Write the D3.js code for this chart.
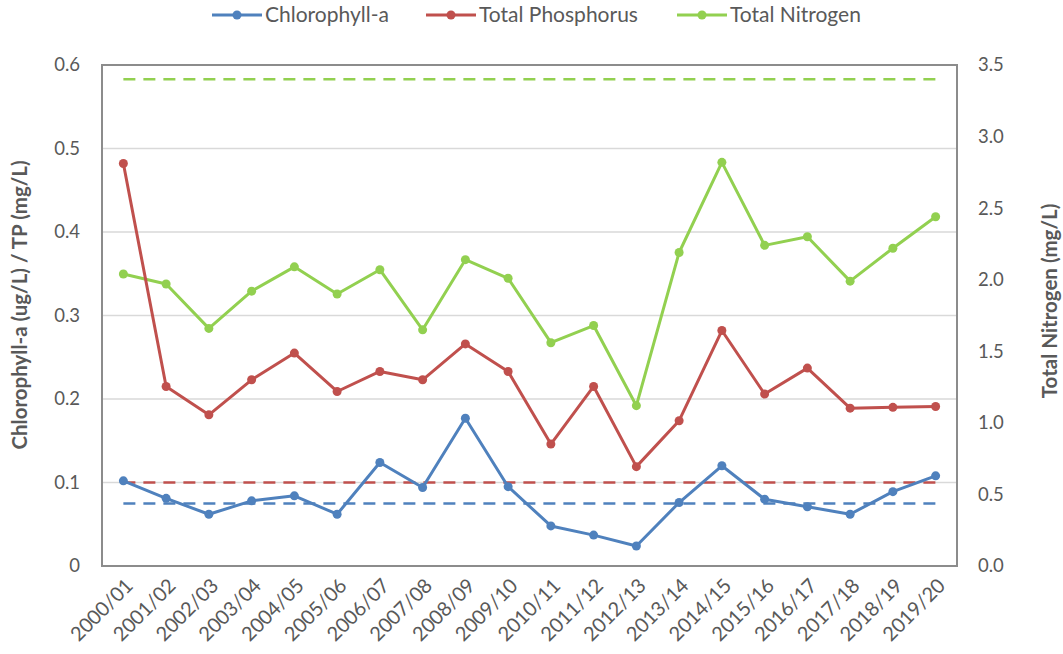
<!DOCTYPE html>
<html>
<head>
<meta charset="utf-8">
<script src="https://cdn.jsdelivr.net/npm/d3@7"></script>
<style>
  body { margin: 0; background: #fff; }
  svg text { font-family: Lato, "Open Sans", sans-serif; fill: #595959; }
</style>
</head>
<body>
<svg id="chart" width="1063" height="654"></svg>
<script>
// data
var years = ["2000/01","2001/02","2002/03","2003/04","2004/05","2005/06","2006/07","2007/08","2008/09","2009/10",
             "2010/11","2011/12","2012/13","2013/14","2014/15","2015/16","2016/17","2017/18","2018/19","2019/20"];
var chla = [0.102,0.081,0.062,0.078,0.084,0.062,0.124,0.094,0.177,0.095,
            0.048,0.037,0.024,0.076,0.120,0.080,0.071,0.062,0.089,0.108];
var tp   = [0.482,0.215,0.181,0.223,0.255,0.209,0.233,0.223,0.266,0.233,
            0.146,0.215,0.119,0.174,0.282,0.206,0.237,0.189,0.190,0.191];
var tn   = [2.04,1.97,1.66,1.92,2.09,1.90,2.07,1.65,2.14,2.01,
            1.56,1.68,1.12,2.19,2.82,2.24,2.30,1.99,2.22,2.44];
// guideline (dashed) values
var chlaTarget = 0.075, tpTarget = 0.1, tnTarget = 3.4;
var leftTicks = [0, 0.1, 0.2, 0.3, 0.4, 0.5, 0.6];
var rightTicks = [0, 0.5, 1, 1.5, 2, 2.5, 3, 3.5];

var blue = "#4f81bd", red = "#c0504d", green = "#92d050";

var svg = d3.select("#chart"),
    margin = {top: 65, right: 106, bottom: 88, left: 102},
    width = +svg.attr("width") - margin.left - margin.right,
    height = +svg.attr("height") - margin.top - margin.bottom,
    g = svg.append("g").attr("transform", "translate(" + margin.left + "," + margin.top + ")");

var x = d3.scaleBand().domain(years).range([0, width]);
var yL = d3.scaleLinear().domain([0, 0.6]).range([height, 0]);
var yR = d3.scaleLinear().domain([0, 3.5]).range([height, 0]);
var cx = function(d) { return x(d) + x.bandwidth() / 2; };

// gridlines
g.selectAll("line.grid")
  .data(leftTicks.slice(1, -1))
  .enter().append("line")
    .attr("class", "grid")
    .attr("x1", 0).attr("x2", width)
    .attr("y1", yL).attr("y2", yL)
    .attr("stroke", "#d9d9d9").attr("stroke-width", 1.5);

// plot border
g.append("rect")
  .attr("width", width).attr("height", height)
  .attr("fill", "none").attr("stroke", "#8c8c8c").attr("stroke-width", 2);

// left axis
var axL = g.append("g").call(d3.axisLeft(yL).tickValues(leftTicks).tickSize(0).tickPadding(22)
  .tickFormat(function(d) { return d === 0 ? "0" : d3.format(".1f")(d); }));
axL.select(".domain").remove();
axL.selectAll("text").style("font-size", "18.5px");

// right axis
var axR = g.append("g").attr("transform", "translate(" + width + ",0)")
  .call(d3.axisRight(yR).tickValues(rightTicks).tickSize(0).tickPadding(21).tickFormat(d3.format(".1f")));
axR.select(".domain").remove();
axR.selectAll("text").style("font-size", "18.5px");

// x axis labels
g.selectAll("text.xlab")
  .data(years)
  .enter().append("text")
    .attr("class", "xlab")
    .attr("transform", function(d) { return "translate(" + (cx(d) + 6) + "," + (height + 16) + ") rotate(-45)"; })
    .attr("text-anchor", "end")
    .attr("dy", "0.35em")
    .style("font-size", "20px")
    .text(function(d) { return d; });

// axis titles
svg.append("text")
  .attr("transform", "translate(27,305) rotate(-90)")
  .attr("text-anchor", "middle")
  .style("font-size", "20.5px").style("font-weight", "bold")
  .text("Chlorophyll-a (ug/L) / TP (mg/L)");
svg.append("text")
  .attr("transform", "translate(1057,301) rotate(-90)")
  .attr("text-anchor", "middle")
  .style("font-size", "20.5px").style("font-weight", "bold")
  .text("Total Nitrogen (mg/L)");

// dashed guideline lines
var guides = [
  {v: tnTarget, s: yR, c: green},
  {v: tpTarget, s: yL, c: red},
  {v: chlaTarget, s: yL, c: blue}
];
g.selectAll("line.guide")
  .data(guides)
  .enter().append("line")
    .attr("class", "guide")
    .attr("x1", cx(years[0])).attr("x2", cx(years[years.length - 1]))
    .attr("y1", function(d) { return d.s(d.v); })
    .attr("y2", function(d) { return d.s(d.v); })
    .attr("stroke", function(d) { return d.c; })
    .attr("stroke-width", 2.5)
    .attr("stroke-dasharray", "12,8");

// series lines
var series = [
  {name: "Total Nitrogen", values: tn, s: yR, c: green},
  {name: "Total Phosphorus", values: tp, s: yL, c: red},
  {name: "Chlorophyll-a", values: chla, s: yL, c: blue}
];

series.forEach(function(ser) {
  var line = d3.line()
    .x(function(d, i) { return cx(years[i]); })
    .y(function(d) { return ser.s(d); });
  g.append("path")
    .datum(ser.values)
    .attr("fill", "none")
    .attr("stroke", ser.c)
    .attr("stroke-width", 3)
    .attr("stroke-linejoin", "round")
    .attr("d", line);
  g.selectAll(null)
    .data(ser.values)
    .enter().append("circle")
      .attr("cx", function(d, i) { return cx(years[i]); })
      .attr("cy", function(d) { return ser.s(d); })
      .attr("r", 4.5)
      .attr("fill", ser.c);
});

// legend
var legendItems = [
  {name: "Chlorophyll-a", c: blue, x: 212},
  {name: "Total Phosphorus", c: red, x: 426},
  {name: "Total Nitrogen", c: green, x: 677}
];
var leg = svg.selectAll("g.legend")
  .data(legendItems)
  .enter().append("g")
    .attr("class", "legend")
    .attr("transform", function(d) { return "translate(" + d.x + ",15)"; });
leg.append("line")
  .attr("x1", 0).attr("x2", 50)
  .attr("stroke", function(d) { return d.c; })
  .attr("stroke-width", 3);
leg.append("circle")
  .attr("cx", 25).attr("r", 4.5)
  .attr("fill", function(d) { return d.c; });
leg.append("text")
  .attr("x", 53).attr("dy", "0.35em")
  .style("font-size", "21px")
  .text(function(d) { return d.name; });
</script>
</body>
</html>
